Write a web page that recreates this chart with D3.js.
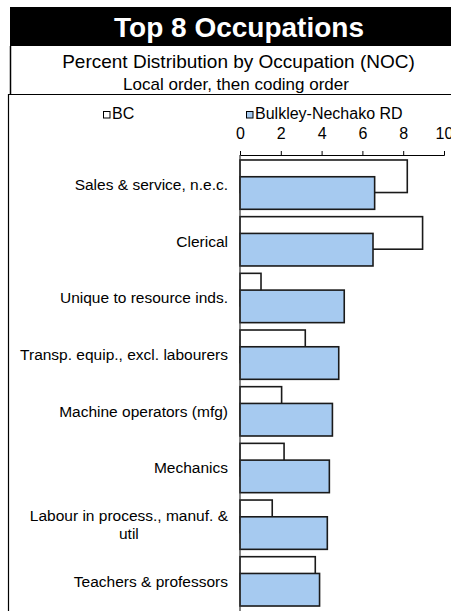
<!DOCTYPE html>
<html>
<head>
<meta charset="utf-8">
<script src="https://cdn.jsdelivr.net/npm/d3@7"></script>
<style>
  body { margin: 0; background: #fff; }
  svg { display: block; font-family: "Liberation Sans", Arial, sans-serif; }
</style>
</head>
<body>
<div id="chart"></div>
<script>
var occupations = [
    ['Sales & service, n.e.c.'],
    ['Clerical'],
    ['Unique to resource inds.'],
    ['Transp. equip., excl. labourers'],
    ['Machine operators (mfg)'],
    ['Mechanics'],
    ['Labour in process., manuf. &', 'util'],
    ['Teachers & professors']
];
var bcValues = [8.2, 8.95, 1.03, 3.2, 2.04, 2.16, 1.58, 3.69];
var rdValues = [6.6, 6.52, 5.11, 4.84, 4.53, 4.38, 4.28, 3.9];
var seriesNames = ['BC', 'Bulkley-Nechako RD'];
var seriesColors = ['#ffffff', '#a6caf0'];
var xTicks = [0, 2, 4, 6, 8, 10];

var width = 451, height = 611;
var plot = {left: 240, right: 444, top: 155, bottom: 611};

var svg = d3.select('#chart').append('svg')
            .attr('width', width)
            .attr('height', height);

// title band and boxes
svg.append('rect')
   .attr('x', 10).attr('y', 7)
   .attr('width', width - 10).attr('height', 39)
   .attr('fill', '#000');

svg.append('text')
   .attr('x', 239).attr('y', 37)
   .attr('text-anchor', 'middle')
   .attr('fill', '#fff')
   .style('font-size', '28px')
   .style('font-weight', 'bold')
   .text('Top 8 Occupations');

svg.append('line')
   .attr('x1', 10.5).attr('x2', 10.5).attr('y1', 46).attr('y2', 94)
   .attr('stroke', '#000').attr('stroke-width', 1.5);

svg.append('line')
   .attr('x1', 8).attr('x2', width).attr('y1', 94.5).attr('y2', 94.5)
   .attr('stroke', '#000').attr('stroke-width', 1.2);

svg.append('line')
   .attr('x1', 8.5).attr('x2', 8.5).attr('y1', 94).attr('y2', height)
   .attr('stroke', '#000').attr('stroke-width', 1.2);

svg.append('text')
   .attr('x', 238.5).attr('y', 68)
   .attr('text-anchor', 'middle')
   .style('font-size', '19px')
   .text('Percent Distribution by Occupation (NOC)');

svg.append('text')
   .attr('x', 236).attr('y', 90)
   .attr('text-anchor', 'middle')
   .style('font-size', '17px')
   .text('Local order, then coding order');

// legend
var legendX = [103, 246];
seriesNames.forEach(function(name, i) {
    svg.append('rect')
       .attr('x', legendX[i] + 0.5).attr('y', 111.5)
       .attr('width', 6.5).attr('height', 6.5)
       .attr('fill', seriesColors[i])
       .attr('stroke', '#000').attr('stroke-width', 1);
    svg.append('text')
       .attr('x', legendX[i] + 9).attr('y', 118.5)
       .style('font-size', '16px')
       .text(name);
});

// scales
var x = d3.scaleLinear()
          .domain([0, 10])
          .range([plot.left, plot.right]);

var y = d3.scaleBand()
          .domain(d3.range(occupations.length))
          .range([plot.top, plot.bottom])
          .paddingInner(0.13)
          .paddingOuter(0.088);

var barH = y.bandwidth() * 0.66;
var barShift = y.bandwidth() - barH;

// axis
var xAxis = d3.axisTop(x)
              .tickValues(xTicks)
              .tickSize(4)
              .tickSizeOuter(4)
              .tickPadding(12);

var axisG = svg.append('g')
               .attr('transform', 'translate(0,' + plot.top + ')')
               .call(xAxis);
axisG.selectAll('text')
     .style('font-size', '16px')
     .style('font-family', '"Liberation Sans", Arial, sans-serif')
     .attr('fill', '#000');
axisG.selectAll('line, path').attr('stroke', '#000');

// bars
var groups = svg.append('g').selectAll('g')
                .data(occupations)
                .enter().append('g')
                .attr('transform', function(d, i) { return 'translate(0,' + y(i) + ')'; });

groups.append('rect')
      .attr('x', x(0))
      .attr('y', 0)
      .attr('width', function(d, i) { return x(bcValues[i]) - x(0); })
      .attr('height', barH)
      .attr('fill', seriesColors[0])
      .attr('stroke', '#1a1a1a')
      .attr('stroke-width', 1.6);

groups.append('rect')
      .attr('x', x(0))
      .attr('y', barShift)
      .attr('width', function(d, i) { return x(rdValues[i]) - x(0); })
      .attr('height', barH)
      .attr('fill', seriesColors[1])
      .attr('stroke', '#1a1a1a')
      .attr('stroke-width', 1.6);

// vertical category axis line
svg.append('line')
   .attr('x1', x(0)).attr('x2', x(0))
   .attr('y1', plot.top).attr('y2', plot.bottom)
   .attr('stroke', '#333').attr('stroke-width', 1.2);

// category labels (lines centred on each other, block right aligned)
var labelRight = 228;
groups.each(function(lines, i) {
    var g = d3.select(this);
    var mid = y.bandwidth() / 2;
    var t = g.append('text')
             .attr('text-anchor', 'middle')
             .style('font-size', '15.5px');
    lines.forEach(function(line, k) {
        t.append('tspan')
         .attr('x', 0)
         .attr('y', mid + 5.5 - (lines.length - 1) * 9 + k * 18.3)
         .text(line);
    });
    var maxW = 0;
    t.selectAll('tspan').each(function() {
        maxW = Math.max(maxW, this.getComputedTextLength());
    });
    t.selectAll('tspan').attr('x', labelRight - maxW / 2);
});
</script>
</body>
</html>
